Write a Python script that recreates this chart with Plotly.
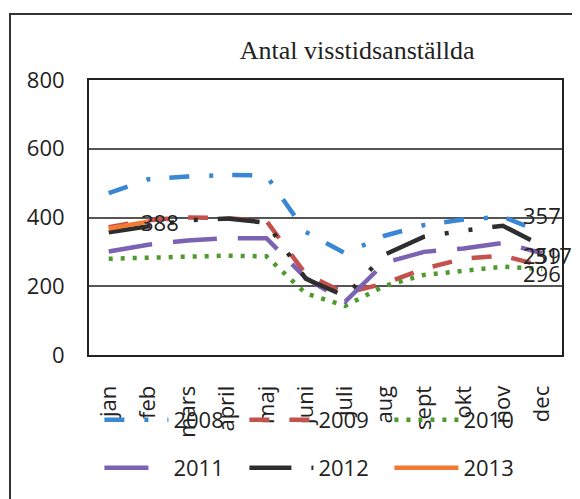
import plotly.graph_objects as go

# months on the x axis
months = ["jan", "feb", "mars", "april", "maj", "juni", "juli", "aug", "sept", "okt", "nov", "dec"]

# values, one list per year
y2008 = [471, 511, 519, 524, 522, 358, 296, 347, 378, 394, 402, 357]
y2009 = [372, 392, 400, 398, 390, 235, 180, 208, 251, 280, 289, 259]
y2010 = [280, 284, 288, 289, 287, 179, 143, 201, 233, 244, 257, 250]
y2011 = [301, 321, 333, 340, 340, 224, 155, 268, 300, 310, 326, 296]
y2012 = [357, 375, 392, 397, 385, 222, 171, 292, 344, 362, 376, 317]
y2013 = [368, 388]

FONT = "Open Sans"

series = [
    ("2008", y2008, "#3a87d3", "20px,20px,4px,19px", "legend"),
    ("2009", y2009, "#c4514c", "20px,20px", "legend"),
    ("2010", y2010, "#4f9a2c", "4px,8px", "legend"),
    ("2011", y2011, "#7c62b2", "44px,21px", "legend2"),
    ("2012", y2012, "#2e2e2e", "42px,20px,4px,20px,4px,20px", "legend2"),
    ("2013", y2013, "#f27a32", "solid", "legend2"),
]

fig = go.Figure()
for name, vals, color, dash, leg in series:
    fig.add_trace(go.Scatter(
        x=months[:len(vals)],
        y=vals,
        mode="lines",
        name=name,
        line=dict(color=color, width=4.5, dash=dash),
        legend=leg,
    ))

# end-of-series value labels (as they sit in the picture)
labels = [
    ("dec", 357, 0, 17),
    ("dec", 259, 0, 11),
    ("dec", 317, 11, -9),
    ("dec", 296, 0, -20),
    ("feb", 388, 12, 0),
]
for xcat, val, dx, dy in labels:
    fig.add_annotation(
        x=xcat, y=val, text=str(val), showarrow=False,
        xshift=dx, yshift=dy,
        font=dict(family=FONT, size=22, color="#222222"),
    )

# outer chart border (right and bottom run off the picture)
fig.add_shape(type="rect", xref="paper", yref="paper",
              x0=-0.167, x1=1.3, y0=-0.75, y1=1.24,
              line=dict(color="#333333", width=2), layer="below")

legend_style = dict(
    orientation="h",
    x=0.022,
    xanchor="left",
    yanchor="middle",
    entrywidth=66,
    entrywidthmode="pixels",
    itemwidth=64,
    bgcolor="rgba(0,0,0,0)",
    font=dict(family=FONT, size=22, color="#222222"),
)

# the page adds an 8px body margin, so the margins are shifted by that
fig.update_layout(
    width=580,
    height=499,
    paper_bgcolor="white",
    plot_bgcolor="white",
    margin=dict(l=81, r=26, t=72, b=152, autoexpand=False),
    title=dict(
        text="Antal visstidsanställda",
        x=0.567, xref="paper", xanchor="center",
        y=0.916, yanchor="middle",
        font=dict(family="Liberation Serif", size=26, color="#222222"),
    ),
    legend=dict(legend_style, y=-0.236),
    legend2=dict(legend_style, y=-0.411),
    xaxis=dict(
        type="category",
        categoryorder="array",
        categoryarray=months,
        range=[-0.5, 11.5],
        tickangle=-90,
        showgrid=False,
        showline=True,
        mirror=True,
        linecolor="#222222",
        linewidth=2,
        ticks="",
        ticklabelstandoff=20,
        automargin=False,
        tickfont=dict(family=FONT, size=22, color="#222222"),
    ),
    yaxis=dict(
        range=[0, 800],
        tickvals=[0, 200, 400, 600, 800],
        showgrid=True,
        gridcolor="#555555",
        gridwidth=1.5,
        zeroline=False,
        showline=True,
        mirror=True,
        linecolor="#222222",
        linewidth=2,
        ticks="",
        ticklabelstandoff=18,
        automargin=False,
        tickfont=dict(family=FONT, size=22, color="#222222"),
    ),
)

fig.write_html("out.html")
